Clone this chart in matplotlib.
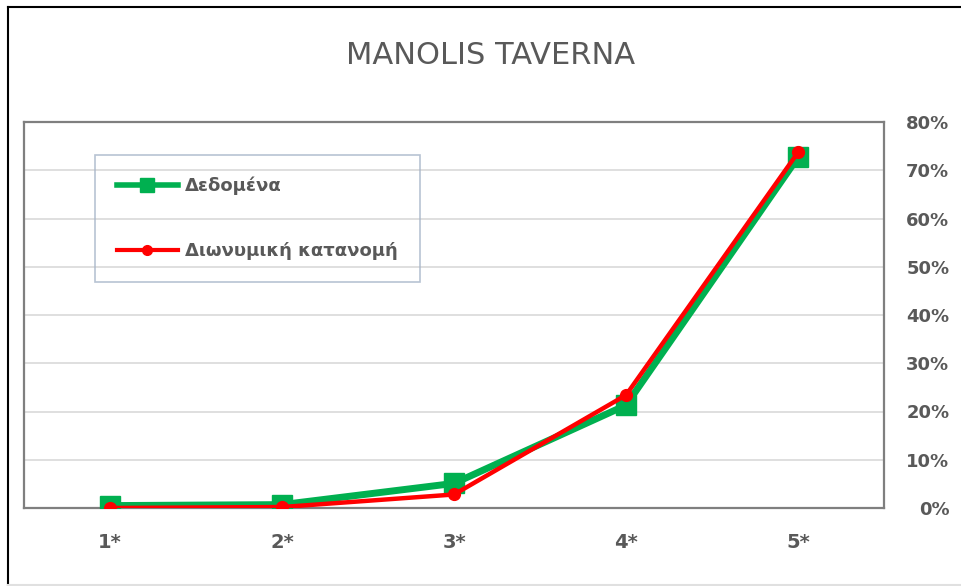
import matplotlib.pyplot as plt
from matplotlib.lines import Line2D
from matplotlib.ticker import FuncFormatter
import numpy as np

# ===== DATA =====
categories = ['1*', '2*', '3*', '4*', '5*']
dedomena = [0.5, 0.7, 5.1, 21.3, 72.7]        # %
binomial = [0.0, 0.2, 2.8, 23.4, 73.7]        # %
y_ticks = [0, 10, 20, 30, 40, 50, 60, 70, 80]

GREEN = '#00b050'
RED = '#ff0000'
TXT = '#595959'

plt.rcParams['font.family'] = ['DejaVu Sans']

fig = plt.figure(figsize=(9.62, 5.86), dpi=100)
W, H = 962, 586
ax = fig.add_axes([24 / W, 1 - 508 / H, (884 - 24) / W, (508 - 122) / H])

x = np.arange(len(categories))
ax.plot(x, dedomena, color=GREEN, lw=5, marker='s', ms=15, zorder=3,
        solid_joinstyle='round')
ax.plot(x, binomial, color=RED, lw=3.2, marker='o', ms=8.5, zorder=4,
        solid_joinstyle='round')

ax.set_xlim(-0.5, len(categories) - 0.5)
ax.set_ylim(0, 80)
ax.set_xticks(x)
ax.set_xticklabels(categories, fontsize=14, fontweight='bold', color=TXT)
ax.set_yticks(y_ticks)
ax.yaxis.set_major_formatter(FuncFormatter(lambda v, p: f'{v:.0f}%'))
ax.yaxis.tick_right()
ax.tick_params(axis='y', length=0, pad=47, labelsize=13, labelcolor=TXT)
ax.tick_params(axis='x', length=0, pad=18)
for lab in ax.get_yticklabels():
    lab.set_fontweight('bold')
    lab.set_horizontalalignment('right')

ax.grid(axis='y', color='#d9d9d9', lw=1.2)
ax.set_axisbelow(True)
for s in ax.spines.values():
    s.set_color('#7f7f7f')
    s.set_linewidth(1.6)

fig.text(491 / W, 1 - 55 / H, 'MANOLIS TAVERNA', ha='center', va='center',
         fontsize=22, color=TXT)

handles = [
    Line2D([], [], color=GREEN, lw=4, marker='s', ms=10),
    Line2D([], [], color=RED, lw=3, marker='o', ms=7),
]
leg = ax.legend(handles, ['Δεδομένα', 'Διωνυμική κατανομή'],
                loc='upper left', bbox_to_anchor=(71 / 860, 1 - 33 / 386),
                prop={'size': 13, 'weight': 'bold'}, labelcolor=TXT,
                frameon=True, fancybox=False, handlelength=3.4,
                handletextpad=0.4, labelspacing=2.6, borderpad=1.2,
                borderaxespad=0)
leg.get_frame().set_edgecolor('#a6b4c8')
leg.get_frame().set_facecolor('none')
leg.get_frame().set_linewidth(1.2)

# outer frame of the chart
fig.add_artist(Line2D([8 / W, 8 / W], [1 - 7 / H, 1 - 585 / H], color='black', lw=1.5))
fig.add_artist(Line2D([8 / W, 1], [1 - 7 / H, 1 - 7 / H], color='black', lw=1.5))
fig.add_artist(Line2D([8 / W, 1], [1 - 585 / H, 1 - 585 / H], color='#e0e0e0', lw=1.5))

fig.savefig('out.png', dpi=100)
